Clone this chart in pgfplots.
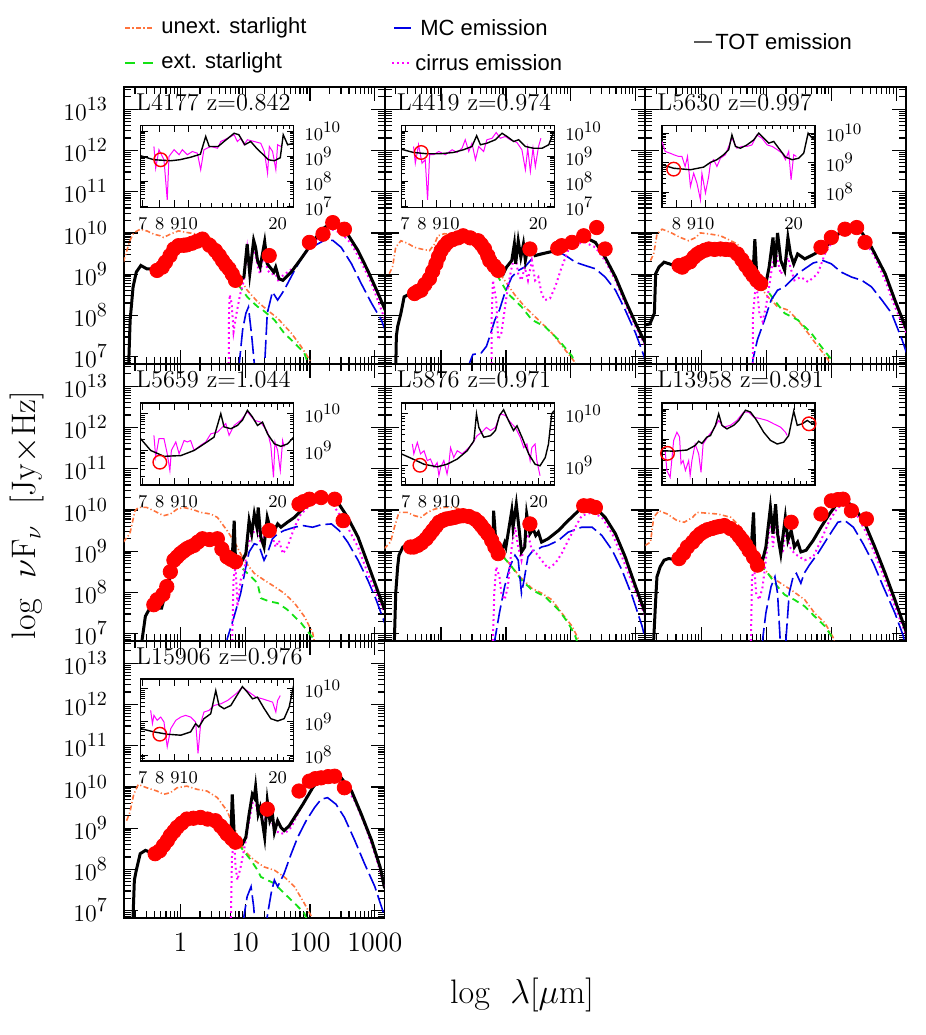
\documentclass[border=0pt]{standalone}
\usepackage{fontspec}
\usepackage{pgfplots}
\pgfplotsset{compat=1.18}
\newfontfamily\legfont{Liberation Sans}
\definecolor{orng}{RGB}{255,115,60}
\definecolor{grn}{RGB}{20,225,20}
\definecolor{blu}{RGB}{0,0,230}
\definecolor{mgt}{RGB}{255,0,255}

% minor ticks of the log axes (values are decimal logarithms)
\def\xminors{-0.699,-0.523,-0.398,-0.301,-0.222,-0.155,-0.097,-0.046}
\foreach \n in {0,1,2}{\xdef\xminors{\xminors,\n.301,\n.477,\n.602,\n.699,\n.778,\n.845,\n.903,\n.954}}
\def\yminors{6.845,6.903,6.954}
\foreach \n in {7,...,12}{\xdef\yminors{\yminors,\n.301,\n.477,\n.602,\n.699,\n.778,\n.845,\n.903,\n.954}}
\xdef\yminors{\yminors,13.301,13.477}

\newcommand{\bigpow}[1]{10\raisebox{0.42em}{\fontsize{10}{10}\selectfont\pgfmathprintnumber{#1}}}
\newcommand{\smallpow}[1]{10\raisebox{0.42em}{\fontsize{7.6}{8}\selectfont\pgfmathprintnumber{#1}}}

\tikzset{ttl/.style={anchor=west, inner sep=0pt, font=\fontsize{12.2}{14}\selectfont},
  legtxt/.style={anchor=west, inner sep=0pt, font=\legfont\fontsize{11}{13}\selectfont}}
\pgfplotsset{
  panel/.style={scale only axis, width=130.3pt, height=138.5pt, anchor=north west,
    xmin=-0.87, xmax=3.15, ymin=6.82, ymax=13.54,
    xtick={0,1,2,3}, minor xtick/.expand once=\xminors,
    ytick={7,...,13}, minor ytick/.expand once=\yminors,
    tick align=inside, major tick length=7pt, minor tick length=3.5pt,
    every tick/.style={black, line width=0.6pt},
    axis line style={line width=0.9pt}},
  noxlab/.style={xticklabels={}},
  noylab/.style={yticklabels={}},
  leftcol/.style={yticklabel={\bigpow{\tick}},
    yticklabel style={font=\fontsize{12}{14}\selectfont, xshift=-5pt}},
  botrow/.style={xticklabels={1,10,100,1000},
    xticklabel style={font=\fontsize{14}{16}\selectfont, yshift=-4pt}},
  inset/.style={scale only axis, width=76.5pt, height=41pt, anchor=north west,
    tick align=inside, major tick length=3.5pt, minor tick length=2pt,
    xtick={0.845,0.903,0.954,1,1.301}, xticklabels={7,8,9,10,20},
    minor xtick={1.041,1.079,1.114,1.146,1.176,1.204,1.230,1.255,1.279,1.322,1.342},
    ytick={6,...,11}, minor ytick/.expand once=\yminors,
    yticklabel pos=right, yticklabel={\smallpow{\tick}},
    ticklabel style={font=\fontsize{9}{11}\selectfont},
    xticklabel style={yshift=-1.5pt}, yticklabel style={xshift=2pt},
    every tick/.style={black, line width=0.5pt},
    axis line style={line width=0.8pt}},
  unext/.style={orng, line width=0.8pt, mark=none, dash pattern=on 2.5pt off 1.2pt on 0.6pt off 1.2pt},
  ext/.style={grn, line width=0.9pt, mark=none, dash pattern=on 3.5pt off 2.5pt},
  mc/.style={blu, line width=0.8pt, mark=none, dash pattern=on 9pt off 2.5pt},
  cir/.style={mgt, line width=1pt, mark=none, dash pattern=on 0.9pt off 1.6pt},
  tot/.style={black, line width=1.5pt, mark=none},
  obs/.style={only marks, mark=*, mark size=3.6pt, red},
  ispec/.style={mgt, line width=0.5pt, mark=none},
  imod/.style={black, line width=0.7pt, mark=none},
  icirc/.style={only marks, mark=o, mark size=3.4pt, red, mark options={line width=0.7pt}},
}

\begin{document}
\begin{tikzpicture}
\path[use as bounding box] (0pt,0pt) rectangle (463pt,517.5pt);

% ---------------- L4177
\begin{axis}[panel, leftcol, noxlab, at={(62pt,474pt)}]
\addplot[obs] coordinates {(-0.36,9.09)(-0.28,9.17)(-0.23,9.29)(-0.16,9.45)(-0.10,9.61)(-0.03,9.69)(0.05,9.70)(0.10,9.71)(0.18,9.75)(0.26,9.80)(0.34,9.85)(0.45,9.70)(0.54,9.57)(0.60,9.45)(0.65,9.33)(0.70,9.22)(0.75,9.13)(0.80,9.0)(0.85,8.85)(1.37,9.45)(1.99,9.77)(2.20,9.97)(2.35,10.25)(2.53,10.09)};
\addplot[unext] coordinates {(-0.88,9.29)(-0.78,9.81)(-0.72,10.0)(-0.62,10.09)(-0.52,10.05)(-0.41,9.97)(-0.31,9.93)(-0.26,9.89)(-0.155,9.97)(-0.03,10.05)(0.10,10.01)(0.26,9.97)(0.39,9.95)(0.49,9.85)(0.62,9.65)(0.78,9.29)(0.88,9.0)(1.03,8.61)(1.19,8.33)(1.34,8.13)(1.50,7.93)(1.71,7.57)(1.86,7.25)(1.99,6.93)(2.05,6.7)};
\addplot[ext] coordinates {(0.80,9.0)(0.88,8.77)(1.03,8.45)(1.19,8.21)(1.27,8.13)(1.45,7.89)(1.60,7.57)(1.76,7.33)(1.91,7.09)(2.0,6.7)};
\addplot[mc] coordinates {(0.90,6.7)(0.96,7.65)(1.01,8.05)(1.05,8.2)(1.10,7.5)(1.16,6.5)(1.29,6.5)(1.34,8.05)(1.42,8.57)(1.50,8.37)(1.60,8.61)(1.76,9.09)(1.91,9.49)(2.07,9.69)(2.22,9.82)(2.35,9.82)(2.48,9.65)(2.64,9.25)(2.79,8.77)(2.95,8.29)(3.10,7.89)(3.18,7.55)};
\addplot[cir] coordinates {(0.745,6.7)(0.75,8.0)(0.76,8.5)(0.79,8.3)(0.82,7.6)(0.86,8.0)(0.92,8.5)(0.98,8.85)(1.03,9.6)(1.07,8.95)(1.13,9.7)(1.19,9.2)(1.23,9.0)(1.30,9.6)(1.34,9.1)(1.40,9.0)(1.47,9.0)(1.52,8.8)(1.55,8.93)(1.76,9.17)(1.96,9.57)(2.17,9.97)(2.33,10.09)(2.48,10.0)(2.64,9.73)(2.79,9.29)(2.95,8.77)(3.10,8.13)(3.18,7.8)};
\addplot[tot] coordinates {(-0.80,6.7)(-0.775,7.89)(-0.73,8.69)(-0.68,9.05)(-0.61,9.21)(-0.52,9.13)(-0.41,9.13)(-0.34,9.02)(-0.21,9.29)(-0.10,9.61)(0.10,9.71)(0.26,9.78)(0.41,9.71)(0.54,9.53)(0.67,9.29)(0.80,9.05)(0.92,8.85)(0.98,8.93)(1.03,9.73)(1.07,9.01)(1.13,9.82)(1.16,9.65)(1.19,9.33)(1.23,9.17)(1.30,9.79)(1.34,9.25)(1.38,9.17)(1.44,9.05)(1.47,9.17)(1.52,8.89)(1.58,8.85)(1.71,9.05)(1.86,9.37)(2.02,9.73)(2.17,10.06)(2.30,10.22)(2.43,10.19)(2.58,9.97)(2.74,9.57)(2.89,9.09)(3.05,8.53)(3.18,8.05)};
\node[ttl] at (rel axis cs:0.045,0.945) {L4177 z=0.842};
\end{axis}
\begin{axis}[inset, at={(70.3pt,454.75pt)}, xmin=0.838, xmax=1.355, ymin=6.96, ymax=10.24]
\addplot[ispec] coordinates {(0.883,9.40)(0.889,8.53)(0.900,9.27)(0.917,8.87)(0.928,7.27)(0.934,9.0)(0.951,9.27)(0.968,9.07)(0.979,9.27)(0.996,9.07)(1.013,9.2)(1.030,9.13)(1.041,8.47)(1.052,9.27)(1.075,9.4)(1.098,9.33)(1.109,9.6)(1.132,9.73)(1.154,9.87)(1.165,9.6)(1.177,9.73)(1.188,9.47)(1.199,9.67)(1.222,9.6)(1.244,9.53)(1.256,9.2)(1.267,8.33)(1.273,9.4)(1.284,9.2)(1.295,8.47)(1.301,9.47)(1.312,9.4)};
\addplot[imod] coordinates {(0.838,9.03)(0.883,8.87)(0.94,8.83)(0.97,8.87)(1.007,8.97)(1.04,9.09)(1.058,9.8)(1.07,9.4)(1.10,9.4)(1.12,9.6)(1.154,9.93)(1.17,9.87)(1.19,9.47)(1.21,9.6)(1.23,9.33)(1.27,8.87)(1.29,8.83)(1.31,8.95)(1.32,9.87)(1.335,9.47)(1.355,9.53)};
\addplot[icirc] coordinates {(0.906,8.87)};
\end{axis}

% ---------------- L4419
\begin{axis}[panel, noylab, noxlab, at={(192.35pt,474pt)}]
\addplot[obs] coordinates {(-0.41,8.53)(-0.36,8.58)(-0.31,8.61)(-0.25,8.75)(-0.18,8.89)(-0.13,9.07)(-0.08,9.25)(-0.04,9.42)(0,9.57)(0.05,9.68)(0.10,9.77)(0.18,9.84)(0.26,9.88)(0.34,9.93)(0.45,9.88)(0.57,9.81)(0.62,9.72)(0.67,9.61)(0.72,9.45)(0.75,9.33)(0.82,9.2)(0.88,9.09)(1.37,9.61)(1.80,9.63)(1.86,9.69)(2.02,9.77)(2.20,9.93)(2.40,10.13)(2.53,9.61)};
\addplot[unext] coordinates {(-0.80,9.01)(-0.75,9.17)(-0.70,9.65)(-0.62,9.81)(-0.52,9.75)(-0.41,9.65)(-0.31,9.61)(-0.18,9.57)(-0.10,9.73)(-0.05,9.93)(0.05,9.98)(0.21,9.95)(0.36,9.93)(0.49,9.89)(0.57,9.77)(0.67,9.49)(0.83,9.17)(0.98,8.85)(1.14,8.49)(1.29,8.21)(1.50,7.89)(1.71,7.57)(1.91,7.17)(2.07,6.85)(2.12,6.7)};
\addplot[ext] coordinates {(0.85,8.98)(0.88,8.93)(1.03,8.53)(1.24,8.21)(1.40,7.89)(1.60,7.73)(1.81,7.41)(2.02,7.01)(2.1,6.7)};
\addplot[mc] coordinates {(0.44,6.7)(0.44,6.85)(0.49,7.05)(0.62,7.09)(0.70,7.25)(0.75,7.49)(0.83,7.89)(0.90,8.13)(0.98,8.53)(1.09,8.93)(1.19,9.09)(1.29,9.17)(1.40,9.37)(1.50,9.49)(1.65,9.53)(1.83,9.53)(1.96,9.41)(2.07,9.29)(2.22,9.21)(2.38,9.13)(2.53,8.93)(2.69,8.61)(2.84,8.13)(3.0,7.57)(3.13,7.01)(3.16,6.8)};
\addplot[cir] coordinates {(0.78,6.7)(0.78,7.9)(0.80,8.85)(0.85,8.37)(0.88,7.41)(0.93,7.57)(0.98,8.13)(1.03,8.69)(1.09,9.17)(1.14,9.49)(1.19,9.01)(1.24,8.85)(1.29,9.17)(1.34,8.85)(1.40,9.33)(1.45,8.85)(1.50,8.93)(1.55,8.53)(1.60,8.37)(1.68,8.41)(1.76,8.69)(1.86,9.17)(1.96,9.57)(2.07,9.73)(2.22,9.77)(2.38,9.65)(2.53,9.33)(2.69,8.85)(2.84,8.29)(3.0,7.73)(3.13,7.33)(3.16,7.2)};
\addplot[tot] coordinates {(-0.70,6.7)(-0.69,7.5)(-0.67,7.73)(-0.62,8.05)(-0.57,8.45)(-0.52,8.49)(-0.44,8.53)(-0.36,8.61)(-0.31,8.53)(-0.23,8.77)(-0.155,9.01)(-0.08,9.33)(0,9.61)(0.10,9.74)(0.26,9.85)(0.41,9.89)(0.52,9.83)(0.62,9.73)(0.70,9.49)(0.80,9.33)(0.90,9.13)(0.96,9.01)(1.01,9.17)(1.09,9.33)(1.13,9.73)(1.15,9.25)(1.19,9.81)(1.23,9.41)(1.27,9.73)(1.30,9.33)(1.33,9.57)(1.40,9.65)(1.45,9.45)(1.55,9.49)(1.71,9.55)(1.86,9.61)(2.02,9.73)(2.14,9.87)(2.25,9.87)(2.38,9.77)(2.53,9.41)(2.69,8.93)(2.84,8.37)(3.0,7.81)(3.15,7.33)};
\node[ttl] at (rel axis cs:0.045,0.945) {L4419 z=0.974};
\end{axis}
\begin{axis}[inset, at={(200.65pt,454.75pt)}, xmin=0.832, xmax=1.356, ymin=6.96, ymax=10.24]
\addplot[ispec] coordinates {(0.874,9.40)(0.880,8.73)(0.891,9.47)(0.903,8.73)(0.914,8.87)(0.922,7.27)(0.929,9.07)(0.943,9.07)(0.960,9.2)(0.983,9.07)(1.006,9.27)(1.023,9.16)(1.040,9.33)(1.051,9.67)(1.063,9.2)(1.074,9.53)(1.086,8.87)(1.097,9.4)(1.114,9.2)(1.125,9.67)(1.143,9.73)(1.157,9.96)(1.171,9.73)(1.188,9.8)(1.205,9.67)(1.228,9.56)(1.245,9.27)(1.257,8.47)(1.265,9.33)(1.274,8.4)(1.283,9.33)(1.291,8.6)(1.302,9.4)(1.31,9.73)};
\addplot[imod] coordinates {(0.832,9.29)(0.874,9.16)(0.92,9.11)(0.966,9.11)(1.01,9.16)(1.045,9.27)(1.074,9.4)(1.09,9.83)(1.103,9.47)(1.125,9.53)(1.154,9.67)(1.177,9.93)(1.194,9.8)(1.217,9.6)(1.234,9.67)(1.257,9.4)(1.285,9.33)(1.314,9.33)(1.337,9.47)(1.352,9.93)};
\addplot[icirc] coordinates {(0.90,9.16)};
\end{axis}

% ---------------- L5630
\begin{axis}[panel, noylab, noxlab, at={(322.65pt,474pt)}]
\addplot[obs] coordinates {(-0.35,9.21)(-0.30,9.17)(-0.25,9.25)(-0.18,9.30)(-0.12,9.41)(-0.07,9.48)(-0.02,9.53)(0.05,9.58)(0.11,9.61)(0.20,9.60)(0.29,9.61)(0.37,9.60)(0.45,9.59)(0.55,9.49)(0.62,9.35)(0.68,9.21)(0.74,9.08)(0.79,8.97)(0.85,8.85)(0.91,8.77)(1.84,9.65)(2.0,9.89)(2.21,10.09)(2.39,10.13)(2.52,9.77)};
\addplot[unext] coordinates {(-0.79,9.33)(-0.74,9.49)(-0.69,9.97)(-0.61,10.09)(-0.48,10.01)(-0.33,9.89)(-0.20,9.81)(-0.09,9.89)(-0.02,10.0)(0.14,9.97)(0.29,9.93)(0.45,9.81)(0.55,9.73)(0.66,9.49)(0.76,9.09)(0.86,8.77)(1.02,8.45)(1.17,8.21)(1.33,8.13)(1.48,7.89)(1.64,7.57)(1.79,7.25)(1.95,6.93)(2.0,6.7)};
\addplot[ext] coordinates {(0.79,8.97)(0.81,8.93)(0.97,8.69)(1.12,8.37)(1.28,8.05)(1.48,7.89)(1.69,7.57)(1.84,7.25)(2.0,6.93)(2.05,6.7)};
\addplot[mc] coordinates {(0.78,6.7)(0.79,6.93)(0.86,7.41)(0.97,7.89)(1.07,8.37)(1.17,8.61)(1.28,8.69)(1.38,8.85)(1.48,9.01)(1.59,9.13)(1.72,9.27)(1.87,9.33)(2.0,9.25)(2.15,9.05)(2.31,8.93)(2.47,8.85)(2.62,8.69)(2.78,8.37)(2.93,8.05)(3.09,7.41)(3.18,7.0)};
\addplot[cir] coordinates {(0.79,6.7)(0.79,8.0)(0.84,8.85)(0.89,8.05)(0.94,7.85)(0.99,8.21)(1.04,8.69)(1.10,9.33)(1.14,9.6)(1.17,9.33)(1.22,9.0)(1.28,9.21)(1.33,9.4)(1.38,9.1)(1.43,8.85)(1.53,8.93)(1.64,8.81)(1.79,9.01)(1.90,9.49)(2.05,9.89)(2.21,10.05)(2.36,10.05)(2.52,9.81)(2.67,9.41)(2.83,8.85)(2.98,8.21)(3.18,7.49)};
\addplot[tot] coordinates {(-0.87,7.77)(-0.80,7.79)(-0.73,8.05)(-0.71,9.01)(-0.66,9.17)(-0.58,9.29)(-0.50,9.25)(-0.43,9.21)(-0.33,9.13)(-0.22,9.21)(-0.12,9.41)(-0.02,9.53)(0.14,9.55)(0.29,9.55)(0.40,9.57)(0.50,9.49)(0.60,9.41)(0.71,9.09)(0.79,8.97)(0.82,9.85)(0.85,8.93)(0.94,8.81)(0.99,8.77)(1.04,9.17)(1.10,9.89)(1.13,9.17)(1.17,10.0)(1.22,9.33)(1.28,9.09)(1.33,9.89)(1.37,9.49)(1.42,9.25)(1.48,9.49)(1.59,9.37)(1.74,9.49)(1.90,9.65)(2.05,9.89)(2.21,10.13)(2.31,10.17)(2.47,10.01)(2.62,9.65)(2.83,9.01)(2.98,8.37)(3.16,7.65)};
\node[ttl] at (rel axis cs:0.045,0.945) {L5630 z=0.997};
\end{axis}
\begin{axis}[inset, at={(330.95pt,454.75pt)}, xmin=0.853, xmax=1.373, ymin=7.48, ymax=10.26]
\addplot[ispec] coordinates {(0.853,9.72)(0.864,9.38)(0.881,9.32)(0.893,9.27)(0.910,9.21)(0.921,9.21)(0.932,8.87)(0.940,9.21)(0.950,8.19)(0.961,8.64)(0.972,8.31)(0.984,7.74)(0.989,8.64)(1.001,7.97)(1.012,8.53)(1.018,8.98)(1.029,9.10)(1.040,8.87)(1.052,9.15)(1.069,9.27)(1.080,9.55)(1.091,9.83)(1.108,9.49)(1.125,9.55)(1.142,9.55)(1.159,9.60)(1.176,9.94)(1.193,9.83)(1.211,9.60)(1.228,9.55)(1.245,9.44)(1.262,9.32)(1.273,9.10)(1.284,9.38)(1.292,8.42)(1.301,9.27)(1.310,9.21)};
\addplot[imod] coordinates {(0.853,8.93)(0.893,8.81)(0.950,8.76)(0.995,8.85)(1.018,9.01)(1.040,9.10)(1.063,9.27)(1.080,9.44)(1.091,9.94)(1.103,9.55)(1.120,9.49)(1.142,9.60)(1.165,9.77)(1.182,10.0)(1.199,9.83)(1.216,9.66)(1.233,9.72)(1.250,9.49)(1.273,9.19)(1.296,9.10)(1.318,9.15)(1.335,9.32)(1.350,10.0)(1.364,9.83)(1.373,9.77)};
\addplot[icirc] coordinates {(0.893,8.78)};
\end{axis}

% ---------------- L5659
\begin{axis}[panel, leftcol, noxlab, at={(62pt,335.5pt)}]
\addplot[obs] coordinates {(-0.41,7.70)(-0.36,7.82)(-0.27,7.95)(-0.21,8.14)(-0.155,8.50)(-0.10,8.78)(-0.05,8.86)(0,8.94)(0.05,9.0)(0.10,9.06)(0.15,9.10)(0.21,9.14)(0.27,9.22)(0.34,9.30)(0.45,9.28)(0.57,9.30)(0.64,9.05)(0.72,8.86)(0.78,8.80)(0.85,8.74)(1.37,9.5)(1.83,10.14)(1.90,10.2)(1.99,10.26)(2.17,10.30)(2.38,10.26)(2.51,9.74)};
\addplot[unext] coordinates {(-0.88,9.22)(-0.78,9.42)(-0.70,9.98)(-0.65,10.06)(-0.52,10.06)(-0.41,9.98)(-0.26,9.86)(-0.155,9.90)(-0.05,10.02)(0.05,10.06)(0.21,10.0)(0.31,9.94)(0.47,9.90)(0.57,9.82)(0.72,9.5)(0.85,9.18)(0.98,8.78)(1.14,8.46)(1.29,8.30)(1.45,8.14)(1.60,7.98)(1.76,7.74)(1.91,7.42)(2.04,7.02)(2.08,6.7)};
\addplot[ext] coordinates {(0.83,8.78)(0.93,8.62)(1.09,8.38)(1.19,8.22)(1.24,7.86)(1.37,7.78)(1.5,7.74)(1.65,7.58)(1.86,7.26)(2.04,6.90)(2.08,6.7)};
\addplot[mc] coordinates {(0.72,6.7)(0.72,6.86)(0.83,7.42)(0.93,7.98)(1.01,8.62)(1.06,8.98)(1.14,9.18)(1.21,9.14)(1.29,8.78)(1.34,8.94)(1.42,9.30)(1.50,9.42)(1.60,9.5)(1.76,9.58)(1.89,9.62)(2.04,9.58)(2.17,9.64)(2.33,9.66)(2.45,9.50)(2.58,9.22)(2.74,8.78)(2.89,8.30)(3.02,7.82)(3.15,7.26)};
\addplot[cir] coordinates {(0.80,6.7)(0.80,6.86)(0.82,8.35)(0.85,8.62)(0.88,7.66)(0.93,8.30)(0.98,8.46)(1.03,9.10)(1.11,9.42)(1.19,9.58)(1.24,9.18)(1.34,9.5)(1.42,9.34)(1.47,9.10)(1.52,9.26)(1.58,8.94)(1.65,9.10)(1.76,9.58)(1.86,9.9)(2.02,10.14)(2.17,10.22)(2.33,10.18)(2.45,9.90)(2.58,9.58)(2.74,9.10)(2.89,8.46)(3.02,7.98)(3.15,7.50)};
\addplot[tot] coordinates {(-0.59,6.7)(-0.59,6.86)(-0.54,7.42)(-0.47,7.62)(-0.36,7.62)(-0.29,7.62)(-0.23,7.98)(-0.155,8.38)(-0.05,8.78)(0.05,8.94)(0.155,9.06)(0.31,9.18)(0.41,9.22)(0.54,9.22)(0.62,9.10)(0.72,8.9)(0.80,8.86)(0.83,9.74)(0.85,8.78)(0.93,8.70)(1.01,8.94)(1.06,9.74)(1.10,9.42)(1.14,9.90)(1.18,9.58)(1.20,10.06)(1.24,9.34)(1.29,9.1)(1.34,9.82)(1.38,9.58)(1.45,9.5)(1.50,9.66)(1.55,9.58)(1.65,9.70)(1.76,9.82)(1.91,10.06)(2.07,10.22)(2.17,10.30)(2.30,10.30)(2.43,10.18)(2.58,9.82)(2.74,9.34)(2.89,8.70)(3.02,8.14)(3.15,7.58)};
\node[ttl] at (rel axis cs:0.045,0.945) {L5659 z=1.044};
\end{axis}
\begin{axis}[inset, at={(70.3pt,316pt)}, xmin=0.838, xmax=1.355, ymin=8.06, ymax=10.29]
\addplot[ispec] coordinates {(0.883,9.41)(0.889,8.82)(0.900,9.32)(0.917,9.32)(0.928,8.91)(0.937,8.45)(0.942,9.0)(0.957,9.23)(0.968,8.91)(0.985,9.27)(0.996,9.23)(1.007,9.27)(1.019,9.0)(1.041,9.14)(1.058,9.23)(1.075,9.45)(1.098,9.5)(1.115,9.64)(1.126,9.73)(1.137,9.41)(1.154,9.68)(1.177,9.82)(1.199,10.05)(1.222,9.82)(1.244,9.77)(1.267,9.5)(1.278,9.14)(1.287,8.27)(1.292,9.23)(1.301,9.0)(1.310,8.45)(1.318,9.27)(1.323,9.09)};
\addplot[imod] coordinates {(0.838,9.32)(0.872,9.0)(0.917,8.84)(0.974,8.86)(1.019,9.0)(1.053,9.18)(1.086,9.36)(1.109,10.0)(1.120,9.64)(1.143,9.59)(1.165,9.68)(1.182,9.82)(1.199,10.09)(1.216,9.91)(1.233,9.68)(1.250,9.77)(1.267,9.45)(1.290,9.18)(1.312,9.11)(1.335,9.18)(1.355,9.36)};
\addplot[icirc] coordinates {(0.903,8.68)};
\end{axis}

% ---------------- L5876
\begin{axis}[panel, noylab, noxlab, at={(192.35pt,335.5pt)}]
\addplot[obs] coordinates {(-0.47,9.10)(-0.42,9.10)(-0.36,9.14)(-0.30,9.2)(-0.23,9.30)(-0.18,9.40)(-0.13,9.50)(-0.08,9.60)(-0.03,9.70)(0.03,9.75)(0.08,9.78)(0.15,9.80)(0.21,9.82)(0.28,9.85)(0.34,9.86)(0.43,9.84)(0.52,9.78)(0.58,9.70)(0.62,9.62)(0.67,9.52)(0.72,9.42)(0.78,9.26)(0.83,9.1)(0.88,8.94)(1.37,9.66)(2.20,10.10)(2.30,10.1)(2.38,10.06)};
\addplot[unext] coordinates {(-0.88,9.06)(-0.78,9.22)(-0.72,9.58)(-0.65,9.94)(-0.52,9.94)(-0.41,9.86)(-0.31,9.82)(-0.21,9.94)(-0.10,10.02)(0.05,10.06)(0.21,10.06)(0.36,9.98)(0.49,9.86)(0.62,9.66)(0.78,9.30)(0.93,8.94)(1.09,8.62)(1.24,8.34)(1.40,8.10)(1.55,7.98)(1.71,7.82)(1.86,7.50)(2.02,7.18)(2.12,6.86)(2.15,6.7)};
\addplot[ext] coordinates {(0.85,9.10)(0.96,8.86)(1.09,8.62)(1.24,8.30)(1.40,8.06)(1.60,7.90)(1.81,7.58)(1.96,7.26)(2.07,6.94)(2.12,6.7)};
\addplot[mc] coordinates {(0.83,6.7)(0.83,6.86)(0.90,7.50)(0.98,8.14)(1.06,8.62)(1.14,8.90)(1.19,8.78)(1.24,7.98)(1.28,8.3)(1.34,8.86)(1.42,9.02)(1.47,9.02)(1.55,9.10)(1.65,9.14)(1.81,9.26)(1.96,9.46)(2.17,9.58)(2.33,9.58)(2.48,9.38)(2.64,9.02)(2.79,8.54)(2.95,7.90)(3.10,7.18)(3.16,6.8)};
\addplot[cir] coordinates {(0.80,6.7)(0.80,6.86)(0.82,7.98)(0.85,8.62)(0.90,8.38)(0.93,7.98)(0.98,7.82)(1.03,8.14)(1.09,9.10)(1.14,9.58)(1.19,9.10)(1.24,8.78)(1.29,9.26)(1.34,9.42)(1.40,9.02)(1.47,8.94)(1.55,8.78)(1.65,8.58)(1.76,8.70)(1.86,8.94)(1.96,9.26)(2.07,9.58)(2.17,9.86)(2.33,9.94)(2.48,9.82)(2.64,9.42)(2.79,8.86)(2.95,8.22)(3.15,7.42)};
\addplot[tot] coordinates {(-0.72,6.7)(-0.72,6.86)(-0.70,7.98)(-0.67,8.62)(-0.65,8.90)(-0.59,9.10)(-0.54,9.14)(-0.49,9.06)(-0.41,9.06)(-0.31,9.02)(-0.23,9.14)(-0.155,9.34)(-0.05,9.62)(0.10,9.82)(0.26,9.86)(0.41,9.90)(0.54,9.82)(0.62,9.66)(0.72,9.42)(0.80,9.2)(0.81,9.98)(0.85,9.10)(0.93,8.98)(0.98,9.2)(1.0,9.1)(1.09,9.98)(1.11,9.58)(1.16,10.14)(1.20,9.58)(1.24,8.98)(1.29,9.1)(1.32,9.90)(1.37,9.42)(1.42,9.54)(1.46,9.38)(1.50,9.46)(1.55,9.22)(1.65,9.30)(1.81,9.50)(1.96,9.74)(2.12,9.98)(2.25,10.10)(2.38,10.06)(2.53,9.82)(2.69,9.42)(2.84,8.86)(3.0,8.14)(3.15,7.50)};
\node[ttl] at (rel axis cs:0.045,0.945) {L5876 z=0.971};
\end{axis}
\begin{axis}[inset, at={(200.65pt,316pt)}, xmin=0.83, xmax=1.355, ymin=8.63, ymax=10.21]
\addplot[ispec] coordinates {(0.868,9.42)(0.873,9.23)(0.885,9.45)(0.896,9.23)(0.908,9.29)(0.919,9.10)(0.930,9.13)(0.942,8.97)(0.953,9.06)(0.959,8.81)(0.965,8.97)(0.976,9.10)(0.987,8.84)(0.993,9.03)(0.999,9.35)(1.010,9.16)(1.022,9.29)(1.039,9.23)(1.056,9.32)(1.073,9.42)(1.090,9.58)(1.107,9.65)(1.122,9.74)(1.136,9.68)(1.153,9.74)(1.170,10.0)(1.187,9.97)(1.204,9.84)(1.221,9.74)(1.238,9.55)(1.250,9.35)(1.261,9.42)(1.272,9.10)(1.278,9.35)(1.289,9.42)(1.295,9.10)(1.306,8.81)};
\addplot[imod] coordinates {(0.83,9.23)(0.862,9.15)(0.908,9.03)(0.953,8.98)(0.987,9.03)(1.022,9.13)(1.056,9.29)(1.079,9.48)(1.088,10.0)(1.096,9.74)(1.113,9.55)(1.136,9.58)(1.153,9.68)(1.167,9.97)(1.181,10.08)(1.198,9.87)(1.215,9.68)(1.227,9.77)(1.244,9.55)(1.267,9.23)(1.289,9.03)(1.306,9.0)(1.324,9.16)(1.335,9.42)(1.346,10.0)(1.354,10.06)};
\addplot[icirc] coordinates {(0.894,9.01)};
\end{axis}

% ---------------- L13958
\begin{axis}[panel, noylab, noxlab, at={(322.65pt,335.5pt)}]
\addplot[obs] coordinates {(-0.35,8.82)(-0.28,8.95)(-0.22,9.10)(-0.14,9.22)(-0.08,9.33)(-0.02,9.42)(0.04,9.48)(0.09,9.52)(0.16,9.55)(0.22,9.58)(0.28,9.60)(0.35,9.62)(0.44,9.55)(0.53,9.46)(0.58,9.36)(0.63,9.26)(0.68,9.15)(0.73,9.02)(0.80,8.85)(0.86,8.66)(1.38,9.70)(1.84,9.90)(2.0,10.22)(2.10,10.25)(2.18,10.26)(2.31,9.98)(2.54,9.78)};
\addplot[unext] coordinates {(-0.87,9.14)(-0.79,9.22)(-0.74,9.82)(-0.66,9.98)(-0.53,9.90)(-0.38,9.74)(-0.27,9.70)(-0.14,9.82)(-0.07,9.94)(0.09,9.92)(0.25,9.90)(0.45,9.82)(0.60,9.58)(0.76,9.02)(0.91,8.66)(1.07,8.38)(1.22,8.22)(1.38,8.06)(1.59,7.82)(1.74,7.50)(1.90,7.26)(2.03,6.90)(2.06,6.7)};
\addplot[ext] coordinates {(0.80,8.92)(0.86,8.74)(1.02,8.46)(1.17,8.14)(1.28,7.94)(1.43,7.82)(1.59,7.66)(1.74,7.42)(1.90,7.18)(2.0,6.94)(2.04,6.7)};
\addplot[mc] coordinates {(0.94,6.7)(0.94,6.86)(0.99,7.50)(1.07,8.14)(1.13,8.38)(1.17,7.98)(1.21,6.86)(1.22,6.0)(1.29,6.0)(1.30,6.86)(1.35,7.98)(1.41,8.38)(1.46,8.46)(1.53,8.22)(1.58,8.46)(1.66,8.66)(1.79,8.94)(1.95,9.34)(2.10,9.70)(2.21,9.74)(2.34,9.58)(2.49,9.18)(2.65,8.70)(2.80,8.14)(2.98,7.50)(3.11,6.94)(3.14,6.7)};
\addplot[cir] coordinates {(0.76,6.7)(0.76,6.86)(0.775,8.34)(0.81,8.62)(0.84,7.98)(0.89,7.82)(0.94,8.14)(0.99,8.78)(1.06,9.82)(1.10,9.10)(1.15,9.82)(1.20,9.26)(1.25,8.94)(1.30,9.58)(1.36,9.10)(1.43,8.94)(1.51,8.86)(1.59,8.78)(1.72,8.86)(1.84,9.26)(1.97,9.74)(2.10,10.06)(2.23,10.14)(2.36,9.98)(2.52,9.50)(2.67,8.94)(2.83,8.30)(2.98,7.66)(3.16,6.94)};
\addplot[tot] coordinates {(-0.74,6.7)(-0.74,6.86)(-0.71,7.82)(-0.69,8.38)(-0.64,8.62)(-0.58,8.78)(-0.51,8.82)(-0.43,8.80)(-0.35,8.74)(-0.27,8.86)(-0.20,9.06)(-0.09,9.30)(0.04,9.46)(0.19,9.54)(0.35,9.54)(0.45,9.50)(0.55,9.38)(0.66,9.14)(0.76,8.98)(0.80,9.94)(0.82,8.94)(0.89,8.86)(0.94,8.78)(0.99,9.10)(1.06,10.06)(1.10,9.42)(1.14,10.14)(1.17,9.42)(1.22,8.94)(1.29,9.82)(1.33,9.26)(1.38,9.50)(1.43,9.10)(1.48,9.22)(1.53,8.98)(1.61,9.02)(1.72,9.26)(1.84,9.58)(1.97,9.90)(2.10,10.18)(2.21,10.23)(2.36,10.06)(2.52,9.66)(2.67,9.10)(2.83,8.46)(2.98,7.82)(3.16,7.02)};
\node[ttl] at (rel axis cs:0.045,0.945) {L13958 z=0.891};
\end{axis}
\begin{axis}[inset, at={(330.95pt,316pt)}, xmin=0.85, xmax=1.37, ymin=7.48, ymax=10.2, xticklabels={}, yticklabels={}]
\addplot[ispec] coordinates {(0.861,8.62)(0.867,7.96)(0.878,7.73)(0.890,8.96)(0.901,9.23)(0.910,9.07)(0.915,8.18)(0.922,8.29)(0.930,7.96)(0.941,8.29)(0.946,7.79)(0.952,8.29)(0.963,8.84)(0.975,8.51)(0.983,7.90)(0.990,8.84)(0.998,8.96)(1.009,9.12)(1.026,9.34)(1.043,9.62)(1.060,9.40)(1.083,9.46)(1.105,9.62)(1.128,9.90)(1.145,9.90)(1.162,9.73)(1.185,9.68)(1.208,9.62)(1.230,9.51)(1.253,9.40)(1.270,9.23)(1.276,9.12)};
\addplot[imod] coordinates {(0.85,8.62)(0.89,8.60)(0.935,8.64)(0.963,8.79)(0.975,8.93)(0.986,8.86)(1.003,9.07)(1.015,9.12)(1.032,9.46)(1.043,9.84)(1.054,9.46)(1.071,9.34)(1.094,9.46)(1.111,9.62)(1.134,9.96)(1.151,9.90)(1.168,9.68)(1.179,9.51)(1.196,9.23)(1.219,8.96)(1.242,8.84)(1.264,8.90)(1.281,9.12)(1.298,9.93)(1.310,9.46)(1.327,9.51)(1.344,9.62)(1.361,9.51)(1.37,9.57)};
\addplot[icirc] coordinates {(0.869,8.53)(1.35,9.51)};
\end{axis}

% ---------------- L15906
\begin{axis}[panel, leftcol, botrow, at={(62pt,197pt)}]
\addplot[obs] coordinates {(-0.39,8.38)(-0.32,8.45)(-0.26,8.58)(-0.20,8.70)(-0.155,8.82)(-0.10,8.92)(-0.05,9.02)(0.02,9.12)(0.10,9.22)(0.20,9.24)(0.31,9.26)(0.42,9.22)(0.54,9.18)(0.62,9.05)(0.68,8.95)(0.72,8.86)(0.79,8.75)(0.85,8.66)(1.34,9.46)(1.83,9.90)(1.99,10.14)(2.08,10.2)(2.17,10.22)(2.28,10.25)(2.38,10.26)(2.53,9.98)};
\addplot[unext] coordinates {(-0.83,9.18)(-0.78,9.38)(-0.72,9.82)(-0.65,10.06)(-0.52,9.98)(-0.36,9.90)(-0.26,9.82)(-0.155,9.86)(-0.05,9.98)(0.10,10.02)(0.26,9.94)(0.41,9.90)(0.57,9.74)(0.72,9.42)(0.85,8.94)(0.98,8.46)(1.14,8.22)(1.29,8.06)(1.45,7.98)(1.60,7.82)(1.76,7.58)(1.91,7.18)(2.02,6.86)(2.05,6.7)};
\addplot[ext] coordinates {(0.80,8.86)(0.83,8.78)(0.93,8.54)(1.09,8.22)(1.19,7.98)(1.24,7.82)(1.34,7.74)(1.45,7.66)(1.60,7.42)(1.76,7.18)(1.91,6.94)(1.97,6.7)};
\addplot[mc] coordinates {(0.98,6.7)(0.98,6.86)(1.03,7.34)(1.09,7.58)(1.13,7.1)(1.16,6.5)(1.33,6.5)(1.34,6.86)(1.40,7.42)(1.45,7.74)(1.50,7.58)(1.55,7.74)(1.60,7.90)(1.71,8.38)(1.81,8.78)(1.94,9.18)(2.07,9.50)(2.17,9.70)(2.27,9.74)(2.40,9.58)(2.53,9.26)(2.69,8.70)(2.84,8.14)(3.0,7.58)(3.15,6.86)};
\addplot[cir] coordinates {(0.78,6.7)(0.78,6.86)(0.795,8.30)(0.83,8.70)(0.85,8.06)(0.88,7.74)(0.93,8.06)(1.01,8.70)(1.06,9.18)(1.14,9.82)(1.19,9.34)(1.24,9.50)(1.29,9.02)(1.34,9.58)(1.40,9.18)(1.47,8.94)(1.55,8.86)(1.63,8.90)(1.71,9.02)(1.81,9.34)(1.94,9.74)(2.07,10.06)(2.22,10.26)(2.38,10.26)(2.53,10.06)(2.69,9.66)(2.84,9.10)(3.0,8.38)(3.15,7.58)};
\addplot[tot] coordinates {(-0.73,6.7)(-0.73,6.86)(-0.71,7.74)(-0.68,7.98)(-0.62,8.38)(-0.54,8.46)(-0.47,8.42)(-0.39,8.38)(-0.31,8.34)(-0.23,8.50)(-0.155,8.78)(-0.05,8.98)(0.10,9.14)(0.26,9.22)(0.41,9.22)(0.52,9.22)(0.62,9.06)(0.70,8.94)(0.78,8.86)(0.80,9.82)(0.83,8.86)(0.90,8.70)(0.96,8.62)(1.01,8.78)(1.06,9.34)(1.11,9.82)(1.14,9.74)(1.16,10.0)(1.20,9.34)(1.23,9.50)(1.27,9.10)(1.30,8.78)(1.34,9.66)(1.38,9.18)(1.42,9.34)(1.45,8.90)(1.50,9.18)(1.55,9.02)(1.60,8.94)(1.68,9.06)(1.76,9.26)(1.89,9.58)(2.04,9.98)(2.20,10.30)(2.33,10.34)(2.48,10.22)(2.64,9.90)(2.79,9.34)(2.95,8.70)(3.08,8.06)(3.15,7.54)};
\node[ttl] at (rel axis cs:0.045,0.945) {L15906 z=0.976};
\end{axis}
\begin{axis}[inset, at={(70.3pt,178pt)}, xmin=0.838, xmax=1.355, ymin=7.82, ymax=10.30]
\addplot[ispec] coordinates {(0.872,9.35)(0.878,8.95)(0.883,9.20)(0.894,9.05)(0.906,9.15)(0.917,9.0)(0.928,8.25)(0.940,8.80)(0.957,9.05)(0.974,9.15)(0.990,9.20)(1.007,9.15)(1.024,9.0)(1.032,8.05)(1.041,8.95)(1.052,9.30)(1.069,9.35)(1.086,9.50)(1.109,9.55)(1.132,9.65)(1.160,9.85)(1.182,10.05)(1.205,9.90)(1.228,9.75)(1.250,9.70)(1.267,9.65)(1.284,9.60)(1.295,9.30)(1.301,9.65)(1.310,9.80)};
\addplot[imod] coordinates {(0.838,8.80)(0.883,8.70)(0.928,8.63)(0.974,8.60)(1.007,8.70)(1.024,8.95)(1.035,8.85)(1.052,9.10)(1.075,9.25)(1.092,9.95)(1.103,9.50)(1.120,9.40)(1.143,9.50)(1.160,9.75)(1.182,10.07)(1.199,9.90)(1.216,9.70)(1.233,9.75)(1.256,9.40)(1.278,9.10)(1.301,9.03)(1.323,9.10)(1.340,9.45)(1.355,10.10)};
\addplot[icirc] coordinates {(0.903,8.63)};
\end{axis}

% ---------------- legend, drawn on a page-sized axis in pixel units
\begin{axis}[at={(0pt,0pt)}, anchor=south west, scale only axis, width=463pt, height=517.5pt,
  hide axis, xmin=0, xmax=926, ymin=0, ymax=1035, clip=false]
\addplot[unext] coordinates {(125,1007)(152,1007)};
\addplot[ext, dash pattern=on 5pt off 4pt] coordinates {(125,972)(155,972)};
\addplot[mc] coordinates {(394,1007)(411,1007)};
\addplot[cir] coordinates {(392,972)(410,972)};
\addplot[black!65, line width=0.8pt, mark=none] coordinates {(694,993)(712,993)};
\node[legtxt] at (axis cs:161,1007) {unext. starlight};
\node[legtxt] at (axis cs:161,972) {ext. starlight};
\node[legtxt] at (axis cs:420,1007) {MC emission};
\node[legtxt] at (axis cs:415,972) {cirrus emission};
\node[legtxt] at (axis cs:715,993) {TOT emission};
\end{axis}

\node[rotate=90, font=\fontsize{17}{20}\selectfont] at (13.5pt,260pt) {log\ \ $\nu$F$_\nu$\ \ [Jy$\times$Hz]};
\node[font=\fontsize{17}{20}\selectfont] at (261pt,20pt) {log\ \ $\lambda$[$\mu$m]};
\end{tikzpicture}
\end{document}
